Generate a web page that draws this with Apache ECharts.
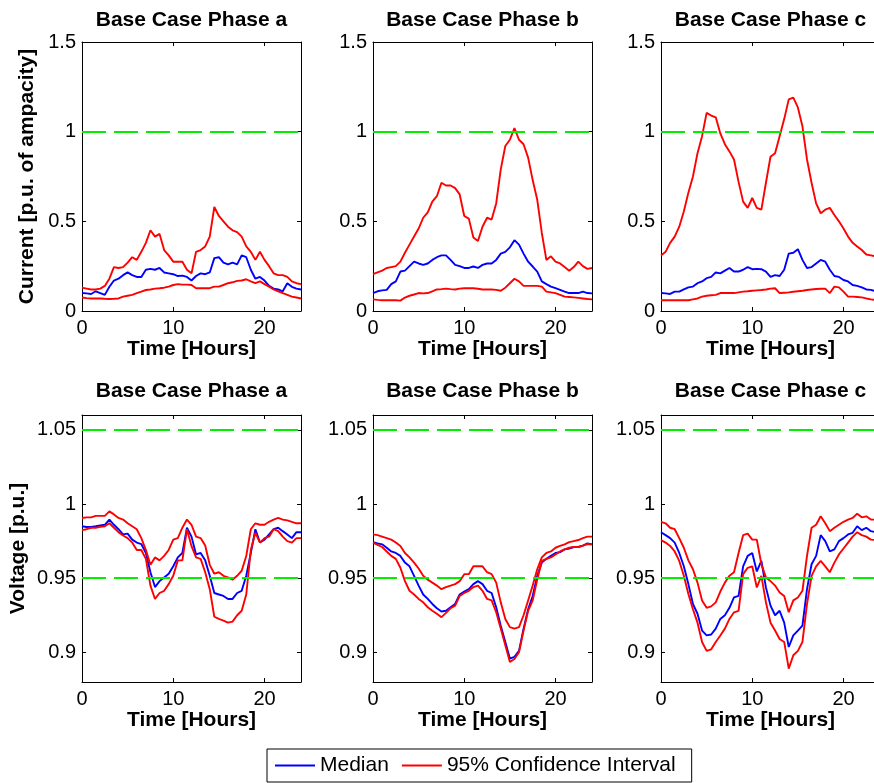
<!DOCTYPE html>
<html>
<head>
<meta charset="utf-8">
<title>Base Case</title>
<script src="https://cdn.jsdelivr.net/npm/echarts@6/dist/echarts.min.js"></script>
<style>
    html, body { margin: 0; padding: 0; background: #fff; }
    #main { width: 874px; height: 783px; }
</style>
</head>
<body>
<div id="main"></div>
<script>
// time axis, half hour steps
var hours = [0, 0.5, 1, 1.5, 2, 2.5, 3, 3.5, 4, 4.5, 5, 5.5, 6, 6.5, 7, 7.5, 8, 8.5, 9, 9.5, 10, 10.5, 11, 11.5,
    12, 12.5, 13, 13.5, 14, 14.5, 15, 15.5, 16, 16.5, 17, 17.5, 18, 18.5, 19, 19.5, 20, 20.5, 21, 21.5, 22, 22.5, 23, 23.5, 24];
var xTicks = [0, 10, 20];
var curTicks = [0, 0.5, 1, 1.5];
var volTicks = [0.9, 0.95, 1, 1.05];
var curLimit = [1];
var volLimits = [0.95, 1.05];
var titles = ['Base Case Phase a', 'Base Case Phase b', 'Base Case Phase c'];

// current [p.u. of ampacity]
var curAUp = [0.13, 0.125, 0.12, 0.12, 0.125, 0.14, 0.18, 0.245, 0.24, 0.245, 0.27, 0.30, 0.285, 0.33, 0.38, 0.45,
    0.415, 0.43, 0.34, 0.31, 0.275, 0.275, 0.275, 0.23, 0.21, 0.33, 0.34, 0.36, 0.415, 0.58, 0.53, 0.50,
    0.47, 0.45, 0.44, 0.415, 0.36, 0.33, 0.285, 0.33, 0.285, 0.25, 0.21, 0.20, 0.20, 0.19, 0.165, 0.155, 0.15];
var curAMed = [0.10, 0.098, 0.095, 0.11, 0.10, 0.09, 0.135, 0.17, 0.18, 0.20, 0.215, 0.20, 0.19, 0.19, 0.23, 0.235,
    0.23, 0.24, 0.215, 0.21, 0.205, 0.195, 0.197, 0.19, 0.17, 0.195, 0.21, 0.205, 0.215, 0.295, 0.30, 0.27,
    0.26, 0.27, 0.26, 0.31, 0.30, 0.23, 0.18, 0.19, 0.17, 0.14, 0.125, 0.12, 0.11, 0.155, 0.135, 0.125, 0.12];
var curALo = [0.075, 0.072, 0.07, 0.07, 0.07, 0.068, 0.067, 0.068, 0.07, 0.08, 0.085, 0.09, 0.10, 0.108, 0.117, 0.12,
    0.125, 0.127, 0.13, 0.136, 0.145, 0.15, 0.147, 0.147, 0.145, 0.127, 0.127, 0.127, 0.127, 0.136, 0.136, 0.145,
    0.155, 0.16, 0.168, 0.17, 0.177, 0.165, 0.155, 0.165, 0.15, 0.136, 0.12, 0.11, 0.10, 0.09, 0.08, 0.075, 0.07];

var curBUp = [0.205, 0.215, 0.225, 0.24, 0.245, 0.25, 0.275, 0.325, 0.37, 0.415, 0.46, 0.52, 0.55, 0.61, 0.64, 0.715,
    0.70, 0.70, 0.685, 0.65, 0.53, 0.515, 0.41, 0.39, 0.47, 0.52, 0.51, 0.60, 0.79, 0.92, 0.955, 1.02,
    0.955, 0.93, 0.855, 0.73, 0.62, 0.435, 0.285, 0.305, 0.275, 0.265, 0.245, 0.225, 0.245, 0.275, 0.25, 0.235, 0.24];
var curBMed = [0.10, 0.11, 0.115, 0.118, 0.15, 0.165, 0.22, 0.225, 0.25, 0.275, 0.265, 0.257, 0.265, 0.285, 0.30, 0.31,
    0.31, 0.285, 0.257, 0.25, 0.24, 0.24, 0.248, 0.24, 0.257, 0.265, 0.265, 0.285, 0.32, 0.33, 0.355, 0.395,
    0.37, 0.32, 0.275, 0.248, 0.22, 0.165, 0.15, 0.136, 0.127, 0.118, 0.108, 0.10, 0.10, 0.10, 0.108, 0.10, 0.098];
var curBLo = [0.065, 0.062, 0.06, 0.06, 0.06, 0.06, 0.058, 0.075, 0.085, 0.092, 0.10, 0.098, 0.10, 0.11, 0.12, 0.122,
    0.125, 0.122, 0.12, 0.125, 0.127, 0.127, 0.127, 0.124, 0.12, 0.12, 0.12, 0.118, 0.113, 0.13, 0.155, 0.18,
    0.165, 0.14, 0.14, 0.14, 0.14, 0.136, 0.108, 0.104, 0.10, 0.09, 0.08, 0.078, 0.076, 0.073, 0.07, 0.067, 0.065];

var curCUp = [0.31, 0.33, 0.38, 0.415, 0.47, 0.555, 0.66, 0.75, 0.88, 0.975, 1.105, 1.09, 1.08, 0.99, 0.93, 0.89,
    0.845, 0.72, 0.61, 0.575, 0.63, 0.575, 0.565, 0.715, 0.86, 0.88, 0.975, 1.07, 1.18, 1.19, 1.135, 1.03,
    0.845, 0.715, 0.60, 0.545, 0.565, 0.575, 0.535, 0.50, 0.46, 0.415, 0.38, 0.36, 0.34, 0.315, 0.31, 0.305, 0.305];
var curCMed = [0.10, 0.098, 0.095, 0.108, 0.108, 0.12, 0.132, 0.136, 0.155, 0.165, 0.183, 0.19, 0.215, 0.21, 0.225, 0.24,
    0.22, 0.22, 0.23, 0.245, 0.233, 0.235, 0.233, 0.22, 0.19, 0.20, 0.195, 0.23, 0.32, 0.325, 0.345, 0.285,
    0.24, 0.245, 0.265, 0.285, 0.275, 0.23, 0.195, 0.19, 0.173, 0.165, 0.145, 0.14, 0.132, 0.12, 0.118, 0.11, 0.108];
var curCLo = [0.06, 0.06, 0.06, 0.06, 0.06, 0.06, 0.06, 0.065, 0.07, 0.08, 0.085, 0.088, 0.09, 0.10, 0.10, 0.10,
    0.10, 0.104, 0.108, 0.11, 0.113, 0.115, 0.117, 0.12, 0.125, 0.127, 0.10, 0.102, 0.104, 0.107, 0.11, 0.113,
    0.117, 0.12, 0.123, 0.124, 0.125, 0.10, 0.136, 0.132, 0.108, 0.08, 0.08, 0.078, 0.076, 0.07, 0.065, 0.062, 0.058];

// voltage [p.u.]
var volAUp = [0.9906, 0.991, 0.991, 0.992, 0.992, 0.992, 0.995, 0.993, 0.9906, 0.9895, 0.987, 0.985, 0.983, 0.977, 0.969, 0.959,
    0.964, 0.962, 0.965, 0.969, 0.976, 0.977, 0.984, 0.9895, 0.986, 0.978, 0.977, 0.972, 0.959, 0.953, 0.954, 0.9516,
    0.9505, 0.949, 0.9516, 0.955, 0.965, 0.983, 0.987, 0.986, 0.986, 0.988, 0.9895, 0.9906, 0.9895, 0.989, 0.988, 0.987, 0.987];
var volAMed = [0.985, 0.9845, 0.9846, 0.985, 0.9855, 0.986, 0.9895, 0.986, 0.983, 0.9795, 0.980, 0.976, 0.974, 0.973, 0.967, 0.954,
    0.944, 0.948, 0.9505, 0.953, 0.958, 0.964, 0.967, 0.984, 0.978, 0.966, 0.967, 0.962, 0.9516, 0.940, 0.939, 0.938,
    0.936, 0.936, 0.940, 0.9415, 0.9516, 0.967, 0.983, 0.974, 0.976, 0.9795, 0.983, 0.984, 0.9817, 0.9795, 0.977, 0.981, 0.981];
var volALo = [0.9824, 0.983, 0.984, 0.984, 0.9846, 0.985, 0.987, 0.984, 0.981, 0.9788, 0.977, 0.974, 0.969, 0.969, 0.963, 0.945,
    0.936, 0.940, 0.9415, 0.946, 0.9516, 0.962, 0.962, 0.983, 0.9716, 0.964, 0.963, 0.954, 0.9426, 0.924, 0.9225, 0.9214,
    0.920, 0.9207, 0.925, 0.928, 0.939, 0.969, 0.9806, 0.974, 0.977, 0.978, 0.983, 0.9817, 0.978, 0.975, 0.974, 0.977, 0.977];

var volBUp = [0.9795, 0.979, 0.978, 0.977, 0.976, 0.974, 0.9717, 0.967, 0.964, 0.9605, 0.9565, 0.9516, 0.949, 0.947, 0.945, 0.9426,
    0.944, 0.945, 0.946, 0.948, 0.9527, 0.9527, 0.958, 0.958, 0.958, 0.954, 0.9527, 0.947, 0.9337, 0.9225, 0.917, 0.916,
    0.917, 0.925, 0.935, 0.945, 0.956, 0.964, 0.967, 0.968, 0.9705, 0.9717, 0.9728, 0.9743, 0.975, 0.9757, 0.977, 0.978, 0.978];
var volBMed = [0.9743, 0.9735, 0.9728, 0.9705, 0.968, 0.967, 0.965, 0.9605, 0.958, 0.9516, 0.945, 0.939, 0.936, 0.9326, 0.9297, 0.9275,
    0.928, 0.9304, 0.9326, 0.939, 0.941, 0.9426, 0.946, 0.948, 0.946, 0.9415, 0.940, 0.9304, 0.918, 0.907, 0.8958, 0.897,
    0.901, 0.916, 0.929, 0.938, 0.9516, 0.9605, 0.963, 0.965, 0.967, 0.9676, 0.9694, 0.970, 0.971, 0.971, 0.972, 0.9734, 0.9728];
var volBLo = [0.974, 0.9725, 0.971, 0.968, 0.965, 0.963, 0.957, 0.948, 0.9415, 0.939, 0.936, 0.9337, 0.9304, 0.928, 0.926, 0.9237,
    0.9266, 0.9297, 0.9315, 0.938, 0.940, 0.9415, 0.944, 0.945, 0.9415, 0.936, 0.935, 0.927, 0.916, 0.9047, 0.8935, 0.8955,
    0.900, 0.9147, 0.928, 0.935, 0.949, 0.9616, 0.963, 0.964, 0.966, 0.968, 0.9694, 0.9705, 0.971, 0.971, 0.972, 0.973, 0.9728];

var volCUp = [0.988, 0.987, 0.984, 0.983, 0.977, 0.9705, 0.962, 0.956, 0.947, 0.935, 0.930, 0.931, 0.9337, 0.941, 0.947, 0.9516,
    0.954, 0.967, 0.979, 0.980, 0.976, 0.976, 0.9594, 0.9505, 0.948, 0.945, 0.9404, 0.938, 0.927, 0.935, 0.937, 0.9415,
    0.965, 0.984, 0.986, 0.9917, 0.987, 0.9817, 0.984, 0.986, 0.988, 0.9895, 0.9906, 0.9935, 0.991, 0.9917, 0.9895, 0.9895, 0.9895];
var volCMed = [0.981, 0.979, 0.977, 0.974, 0.967, 0.958, 0.946, 0.9326, 0.926, 0.9147, 0.9114, 0.912, 0.916, 0.9225, 0.925, 0.930,
    0.937, 0.938, 0.958, 0.965, 0.967, 0.9545, 0.9616, 0.9437, 0.9315, 0.925, 0.928, 0.920, 0.9036, 0.9114, 0.9147, 0.918,
    0.9426, 0.9594, 0.965, 0.979, 0.975, 0.968, 0.9694, 0.975, 0.977, 0.9795, 0.9806, 0.985, 0.9824, 0.984, 0.9817, 0.981, 0.981];
var volCLo = [0.9757, 0.974, 0.9717, 0.968, 0.9616, 0.9516, 0.9393, 0.929, 0.920, 0.907, 0.901, 0.902, 0.907, 0.9114, 0.916, 0.9225,
    0.927, 0.928, 0.9527, 0.957, 0.958, 0.9437, 0.9516, 0.9337, 0.920, 0.9147, 0.909, 0.907, 0.889, 0.898, 0.901, 0.907,
    0.9326, 0.9516, 0.958, 0.9616, 0.958, 0.954, 0.9605, 0.966, 0.970, 0.974, 0.978, 0.981, 0.979, 0.978, 0.976, 0.9757, 0.9757];

var panels = [
    { row: 0, col: 0, med: curAMed, up: curAUp, lo: curALo },
    { row: 0, col: 1, med: curBMed, up: curBUp, lo: curBLo },
    { row: 0, col: 2, med: curCMed, up: curCUp, lo: curCLo },
    { row: 1, col: 0, med: volAMed, up: volAUp, lo: volALo },
    { row: 1, col: 1, med: volBMed, up: volBUp, lo: volBLo },
    { row: 1, col: 2, med: volCMed, up: volCUp, lo: volCLo }
];

var FONT = 'Liberation Sans, Arial, sans-serif';
var colLeft = [82, 373, 661];
var rowTop = [42, 415];
var rowHeight = [269, 267];
var plotW = 219;

function toPairs(vals) {
    return hours.map(function (h, i) { return [h, vals[i]]; });
}

var grids = [], xAxes = [], yAxes = [], series = [];

panels.forEach(function (p, k) {
    var isCur = p.row === 0;
    grids.push({
        left: colLeft[p.col], top: rowTop[p.row], width: plotW, height: rowHeight[p.row],
        outerBoundsMode: 'none'
    });
    // bottom x axis
    xAxes.push({
        type: 'value', gridIndex: k, min: 0, max: 24, position: 'bottom',
        name: 'Time [Hours]', nameLocation: 'middle', nameGap: 28,
        nameTextStyle: { color: '#000', fontSize: 21, fontWeight: 'bold', fontFamily: FONT },
        axisLine: { onZero: false, lineStyle: { color: '#000', width: 1 } },
        axisTick: { inside: true, length: 4, customValues: xTicks, lineStyle: { color: '#000' } },
        axisLabel: { customValues: xTicks, color: '#000', fontSize: 20, margin: 7, fontFamily: FONT },
        splitLine: { show: false }
    });
    // top x axis (box edge + title)
    xAxes.push({
        type: 'value', gridIndex: k, min: 0, max: 24, position: 'top',
        name: titles[p.col], nameLocation: 'middle', nameGap: p.row === 0 ? 11 : 13,
        nameTextStyle: { color: '#000', fontSize: 21, fontWeight: 'bold', fontFamily: FONT },
        axisLine: { onZero: false, lineStyle: { color: '#000', width: 1 } },
        axisTick: { inside: true, length: 4, customValues: xTicks, lineStyle: { color: '#000' } },
        axisLabel: { show: false },
        splitLine: { show: false }
    });
    var yMin = isCur ? 0 : 0.88, yMax = isCur ? 1.5 : 1.06;
    var ticks = isCur ? curTicks : volTicks;
    yAxes.push({
        type: 'value', gridIndex: k, min: yMin, max: yMax, position: 'left',
        name: p.col === 0 ? (isCur ? 'Current [p.u. of ampacity]' : 'Voltage [p.u.]') : '',
        nameLocation: 'middle', nameGap: isCur ? 44 : 53,
        nameTextStyle: { color: '#000', fontSize: 21, fontWeight: 'bold', fontFamily: FONT },
        axisLine: { onZero: false, lineStyle: { color: '#000', width: 1 } },
        axisTick: { inside: true, length: 4, customValues: ticks, lineStyle: { color: '#000' } },
        axisLabel: { customValues: ticks, color: '#000', fontSize: 20, margin: 6, fontFamily: FONT },
        splitLine: { show: false }
    });
    yAxes.push({
        type: 'value', gridIndex: k, min: yMin, max: yMax, position: 'right',
        axisLine: { onZero: false, lineStyle: { color: '#000', width: 1 } },
        axisTick: { inside: true, length: 4, customValues: ticks, lineStyle: { color: '#000' } },
        axisLabel: { show: false },
        splitLine: { show: false }
    });

    var xi = k * 2, yi = k * 2;
    series.push({
        name: 'Median', type: 'line', xAxisIndex: xi, yAxisIndex: yi,
        data: toPairs(p.med), symbol: 'none', silent: true,
        lineStyle: { color: '#0000ff', width: 1.9 }, itemStyle: { color: '#0000ff' }
    });
    series.push({
        name: '95% Confidence Interval', type: 'line', xAxisIndex: xi, yAxisIndex: yi,
        data: toPairs(p.up), symbol: 'none', silent: true,
        lineStyle: { color: '#ff0000', width: 1.9 }, itemStyle: { color: '#ff0000' }
    });
    series.push({
        name: '95% Confidence Interval', type: 'line', xAxisIndex: xi, yAxisIndex: yi,
        data: toPairs(p.lo), symbol: 'none', silent: true,
        lineStyle: { color: '#ff0000', width: 1.9 }, itemStyle: { color: '#ff0000' },
        markLine: {
            silent: true, symbol: 'none', animation: false,
            label: { show: false },
            lineStyle: { color: '#00ee00', width: 2, type: [24, 8] },
            data: (isCur ? curLimit : volLimits).map(function (v) { return { yAxis: v }; })
        }
    });
});

var chart = echarts.init(document.getElementById('main'));
chart.setOption({
    animation: false,
    backgroundColor: '#fff',
    textStyle: { fontFamily: FONT },
    grid: grids,
    xAxis: xAxes,
    yAxis: yAxes,
    legend: {
        left: 267, top: 749,
        data: ['Median', '95% Confidence Interval'],
        icon: 'rect', itemWidth: 40, itemHeight: 2, itemGap: 13,
        padding: [6, 16, 6, 8],
        borderColor: '#000', borderWidth: 1,
        textStyle: { color: '#000', fontSize: 21, fontFamily: FONT }
    },
    series: series
});
</script>
</body>
</html>
